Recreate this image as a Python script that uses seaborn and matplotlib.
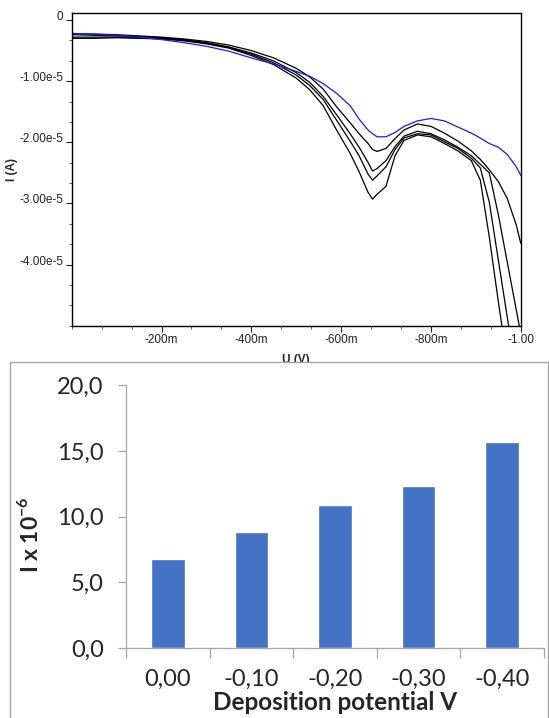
import numpy as np
import pandas as pd
import matplotlib
matplotlib.use("Agg")
import matplotlib.pyplot as plt
import seaborn as sns
from matplotlib.patches import Rectangle
from matplotlib.ticker import MultipleLocator

# --- voltammograms: potential (V) and current (units of 1e-5 A) ---
U = [0.00, -0.05, -0.10, -0.15, -0.20, -0.25, -0.30, -0.35, -0.40, -0.45, -0.50,
     -0.53, -0.56, -0.59, -0.62, -0.64, -0.66, -0.67, -0.68, -0.70, -0.72, -0.74,
     -0.77, -0.80, -0.83, -0.86, -0.89, -0.91, -0.93, -0.95, -0.97, -0.99, -1.00]

I_blue = [-0.22, -0.23, -0.25, -0.28, -0.32, -0.37, -0.43, -0.51, -0.62, -0.72, -0.84,
          -0.92, -1.04, -1.20, -1.40, -1.62, -1.80, -1.86, -1.91, -1.91, -1.84, -1.74,
          -1.65, -1.61, -1.65, -1.75, -1.85, -1.93, -2.02, -2.08, -2.20, -2.40, -2.54]

I_a = [-0.22, -0.23, -0.24, -0.26, -0.28, -0.31, -0.35, -0.41, -0.50, -0.62, -0.79,
       -0.93, -1.13, -1.42, -1.68, -1.86, -2.02, -2.12, -2.15, -2.10, -1.94, -1.80,
       -1.70, -1.74, -1.85, -1.98, -2.14, -2.28, -2.45, -2.64, -2.92, -3.35, -3.65]

I_b = [-0.24, -0.25, -0.26, -0.27, -0.29, -0.32, -0.37, -0.44, -0.54, -0.67, -0.86,
       -1.02, -1.25, -1.55, -1.86, -2.08, -2.33, -2.47, -2.43, -2.30, -2.07, -1.90,
       -1.82, -1.86, -1.96, -2.08, -2.22, -2.36, -2.50, -3.18, -3.96, -4.74, -5.13]

I_c = [-0.28, -0.28, -0.28, -0.29, -0.30, -0.33, -0.38, -0.45, -0.56, -0.70, -0.90,
       -1.07, -1.30, -1.64, -1.98, -2.22, -2.52, -2.62, -2.55, -2.40, -2.12, -1.93,
       -1.86, -1.88, -1.99, -2.10, -2.26, -2.42, -2.98, -3.92, -4.86, -5.80, np.nan]

I_d = [-0.30, -0.30, -0.29, -0.30, -0.31, -0.34, -0.39, -0.46, -0.58, -0.73, -0.95,
       -1.14, -1.40, -1.80, -2.18, -2.48, -2.82, -2.93, -2.85, -2.72, -2.22, -1.97,
       -1.88, -1.91, -2.02, -2.14, -2.30, -2.62, -3.55, -4.60, -5.60, np.nan, np.nan]

curve_names = ["blue", "a", "b", "c", "d"]
curve_colors = {"blue": "#1a1aff", "a": "black", "b": "black", "c": "black", "d": "black"}

# --- bar chart ---
dep_labels = ["0,00", "-0,10", "-0,20", "-0,30", "-0,40"]
dep_current = [6.8, 8.8, 10.9, 12.3, 15.7]


def main():
    sns.set_theme(style="ticks")
    plt.rcParams["font.family"] = ["Liberation Sans", "DejaVu Sans"]
    plt.rcParams["mathtext.fontset"] = "custom"
    plt.rcParams["mathtext.rm"] = "Lato"
    plt.rcParams["mathtext.bf"] = "Lato:bold"

    fig = plt.figure(figsize=(5.49, 7.18), dpi=100)

    # ---------- top: voltammograms ----------
    rows = []
    for name, vals in zip(curve_names, [I_blue, I_a, I_b, I_c, I_d]):
        for u, i in zip(U, vals):
            rows.append({"U": u, "I": i * 1e-5, "curve": name})
    df = pd.DataFrame(rows)

    ax1 = fig.add_axes([0.1306, 0.5464, 0.8179, 0.4351])
    sns.lineplot(data=df, x="U", y="I", hue="curve", hue_order=curve_names[::-1],
                 palette=curve_colors, estimator=None, sort=False, legend=False,
                 linewidth=0.9, ax=ax1)
    ax1.set_xlim(0, -1.0)
    ax1.set_ylim(-5.0e-5, 0.11e-5)

    ax1.set_xticks([-0.2, -0.4, -0.6, -0.8, -1.0])
    ax1.set_xticklabels(["-200m", "-400m", "-600m", "-800m", "-1.00"])
    ax1.xaxis.set_minor_locator(MultipleLocator(0.2 / 3))
    ax1.set_yticks([0, -1e-5, -2e-5, -3e-5, -4e-5])
    ax1.set_yticklabels(["0", "-1.00e-5", "-2.00e-5", "-3.00e-5", "-4.00e-5"])
    ax1.yaxis.set_minor_locator(MultipleLocator(1e-5 / 3))
    for lbl in ax1.get_yticklabels():
        lbl.set_va("baseline")

    ax1.tick_params(which="major", direction="out", length=4, width=0.8,
                    labelsize=8.5, colors="#222222", pad=2)
    ax1.tick_params(which="minor", direction="out", length=2, width=0.6, color="#444444")
    for sp in ax1.spines.values():
        sp.set_color("black")
        sp.set_linewidth(1.0)
    ax1.set_xlabel("U (V)", fontsize=8.5, fontweight="bold", labelpad=6)
    ax1.set_ylabel("I (A)", fontsize=8.5, fontweight="bold", labelpad=1)

    # frame around the lower chart (covers the bottom of the U (V) label)
    frame = Rectangle((10 / 549, -0.01), 538 / 549, 1 - 362 / 718 + 0.01,
                      transform=fig.transFigure, facecolor="white",
                      edgecolor="#a6a6a6", linewidth=1.0, zorder=1)
    fig.patches.append(frame)

    # ---------- bottom: bar chart ----------
    ax2 = fig.add_axes([0.2295, 0.0975, 0.7614, 0.366])
    ax2.set_zorder(2)
    ax2.patch.set_alpha(0)
    sns.barplot(x=dep_labels, y=dep_current, color="#4472C4", saturation=1,
                width=0.4, ax=ax2)
    ax2.set_xlim(-0.5, 4.5)
    ax2.set_ylim(0, 20)
    ax2.set_yticks([0, 5, 10, 15, 20])
    ax2.set_yticklabels([f"{v:.1f}".replace(".", ",") for v in [0, 5, 10, 15, 20]],
                        family=["Lato", "DejaVu Sans"], fontsize=17)
    ax2.set_xticks(np.arange(-0.5, 5, 1.0))
    ax2.set_xticklabels([])
    ax2.set_xticks(range(len(dep_labels)), minor=True)
    ax2.set_xticklabels(dep_labels, minor=True, family=["Lato", "DejaVu Sans"], fontsize=17)
    ax2.tick_params(axis="x", which="major", length=7, width=0.9, color="#a6a6a6")
    ax2.tick_params(axis="x", which="minor", length=0, pad=15)
    ax2.tick_params(axis="y", which="major", length=6, width=0.9, color="#a6a6a6", pad=10)
    sns.despine(ax=ax2)
    for side in ["left", "bottom"]:
        ax2.spines[side].set_color("#a6a6a6")
        ax2.spines[side].set_linewidth(0.9)

    ax2.set_xlabel("Deposition potential V", family=["Lato", "DejaVu Sans"],
                   fontsize=17.5, fontweight="bold", labelpad=1)
    ax2.set_ylabel(r"I x 10$^{\mathbf{-6}}$", family=["Lato", "DejaVu Sans"],
                   fontsize=16.5, fontweight="bold")
    ax2.yaxis.set_label_coords(-0.20, 0.43)

    fig.savefig("out.png", dpi=100)


if __name__ == "__main__":
    main()
